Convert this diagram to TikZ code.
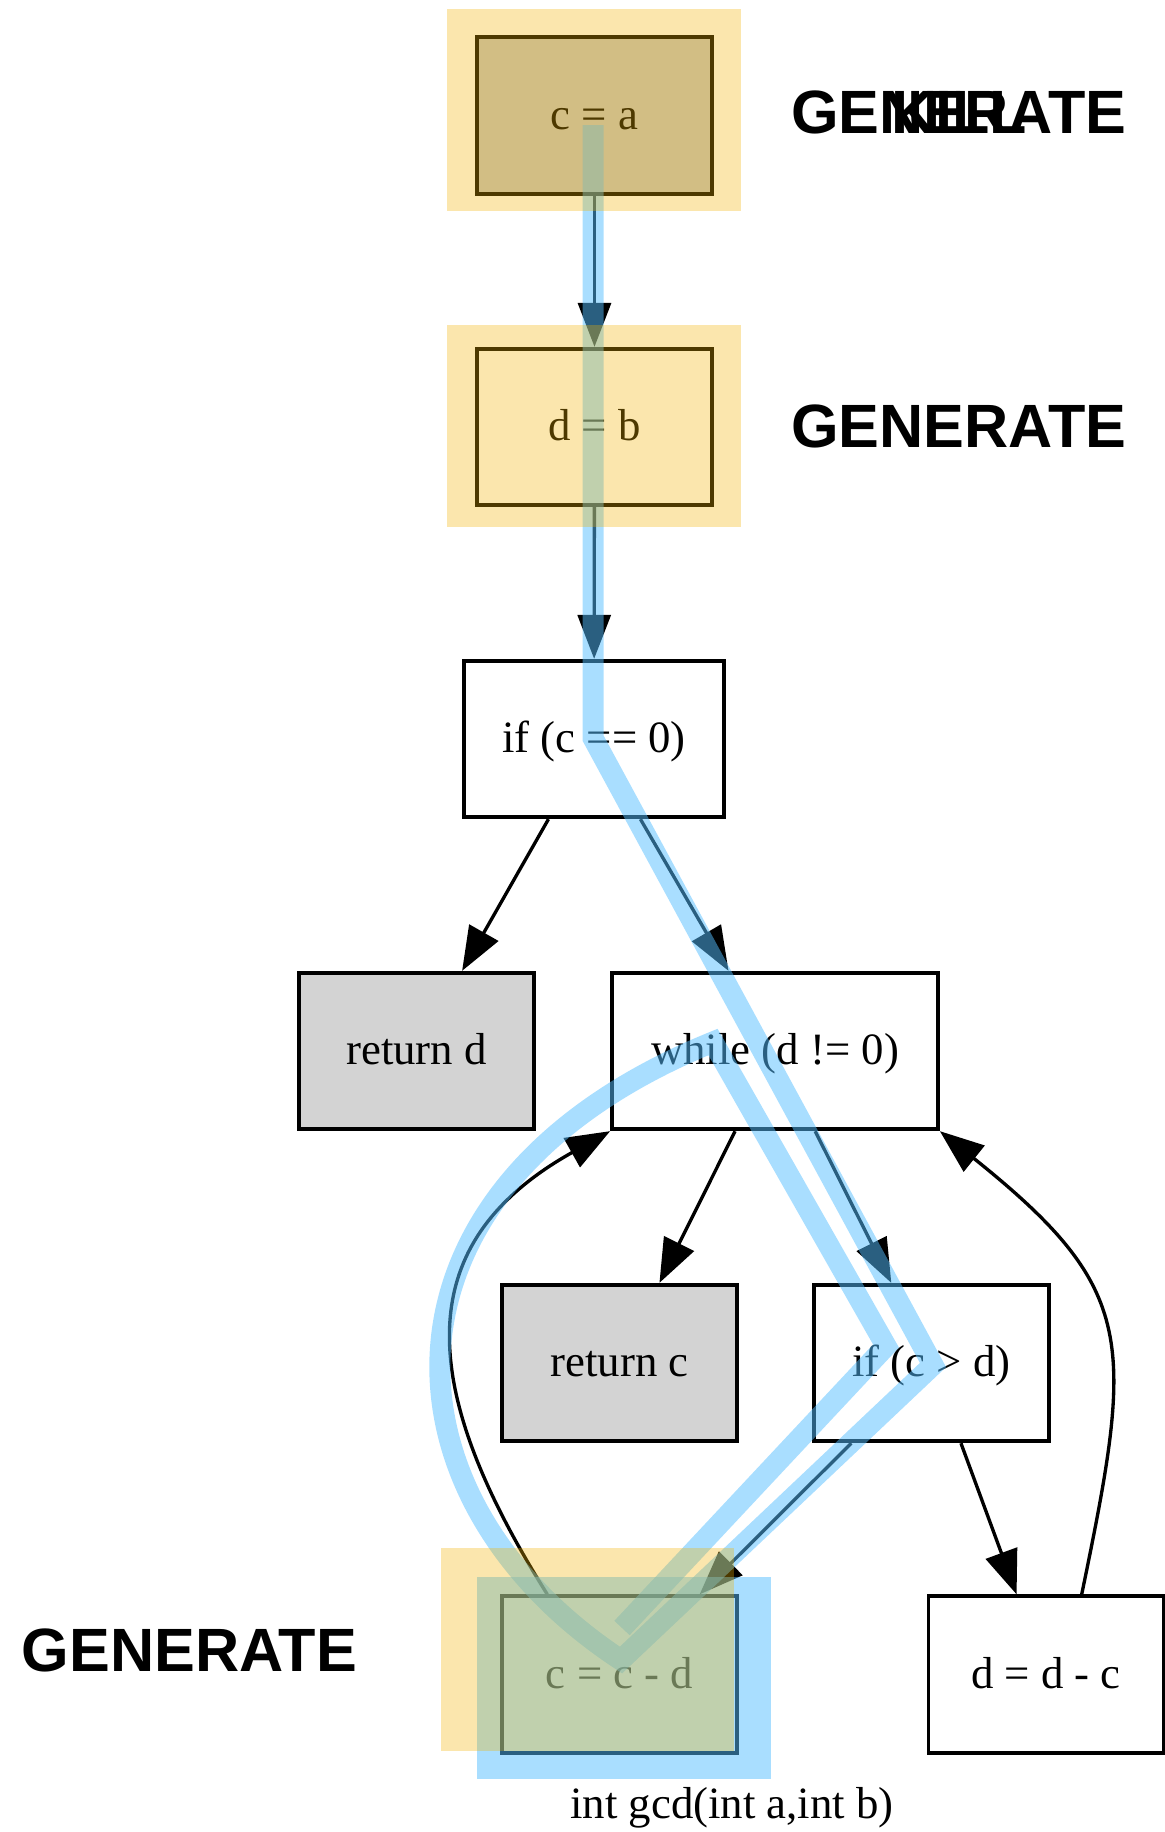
\documentclass[tikz,border=0pt]{standalone}
\usepackage{fontspec}
\setmainfont{Liberation Serif}
\newfontfamily\labelfont{Liberation Sans}
\usetikzlibrary{arrows.meta}
\definecolor{hlyellow}{RGB}{242,178,0}
\definecolor{hlblue}{RGB}{84,190,255}
\definecolor{retgray}{RGB}{211,211,211}
\definecolor{entrygray}{RGB}{196,196,196}

\begin{document}
\begin{tikzpicture}[x=0.02cm,y=-0.02cm,
  stmt/.style={draw,line width=2.2pt,inner sep=0pt,minimum width=4.7cm,minimum height=3.13cm,
    text height=18pt,text depth=2.6pt,font=\fontsize{25.5}{30}\selectfont},
  ret/.style={stmt,fill=retgray},
  flow/.style={line width=1.9pt,-{Triangle[length=0.88cm,width=0.66cm]}},
  gen/.style={font=\labelfont\bfseries\fontsize{34.8}{40}\selectfont},
  trace/.style={hlblue,opacity=0.5,line width=0.42cm,line join=miter},
  hlbox/.style={fill=hlyellow,opacity=0.32}]
\useasboundingbox (0,0) rectangle (1165,1832);

\node[stmt,fill=entrygray] (ca) at (594.5,115.5) {c = a};
\node[stmt] (db) at (594.5,427) {d = b};
\node[stmt,minimum width=5.2cm] (ifz) at (594,739) {if (c == 0)};
\node[ret] (retd) at (416.5,1051) {return d};
\node[stmt,minimum width=6.52cm] (loop) at (775,1051) {while (d != 0)};
\node[ret] (retc) at (619.5,1363) {return c};
\node[stmt] (ifgt) at (931.5,1363) {if (c > d)};
\node[stmt] (subc) at (619.5,1674.5) {c = c - d};
\node[stmt] (subd) at (1046,1674.5) {d = d - c};
\node[font=\fontsize{25.5}{30}\selectfont] (title) at (732,1808) {int gcd(int a,int b)};

\draw[flow] (ca) -- (db);
\draw[flow] (db) -- (ifz);
\draw[flow] (ifz) -- (retd);
\draw[flow] (ifz) -- (loop);
\draw[flow] (loop) -- (retc);
\draw[flow] (loop) -- (ifgt);
\draw[flow] (ifgt) -- (subc);
\draw[flow] (ifgt) -- (subd);
\draw[flow] (subc.132) .. controls (410,1376) and (416,1240) .. (loop.south west);
\draw[flow] (subd.66) .. controls (1134,1341) and (1138,1290) .. (loop.south east);

\fill[hlblue,opacity=0.5] (477,1577) rectangle (771,1779);
\draw[trace] (593,125) -- (593,738) -- (933,1365) -- (621,1660)
  .. controls (370,1495) and (361,1185) .. (713,1042) -- (886,1346) -- (622,1628);
\foreach \xa/\ya/\xb/\yb in {447/9/741/211, 447/325/741/527, 441/1548/734/1751}
\fill[hlbox] (\xa,\ya) rectangle (\xb,\yb);

\node[gen] (genca) at (959,112) {GENERATE};
\node[gen] (killca) at (959,112) {KILL};
\node[gen] (gendb) at (959,426) {GENERATE};
\node[gen] (gensubc) at (189.5,1650) {GENERATE};
\end{tikzpicture}
\end{document}
